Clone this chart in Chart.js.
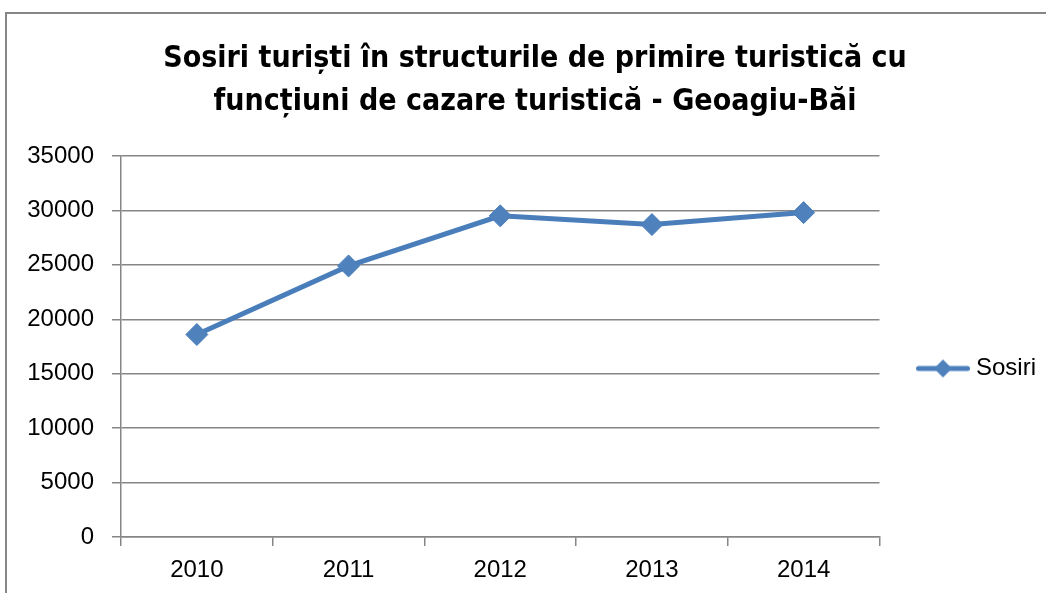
<!DOCTYPE html>
<html>
<head>
<meta charset="utf-8">
<script src="https://cdn.jsdelivr.net/npm/chart.js@4"></script>
<style>
  html, body { margin: 0; padding: 0; background: #fff; }
  #wrap { width: 1046px; height: 593px; }
</style>
</head>
<body>
<div id="wrap"><canvas id="chart"></canvas></div>
<script>
// Data
var years = ['2010', '2011', '2012', '2013', '2014'];
var sosiri = [18600, 24900, 29500, 28700, 29800];
var titleLines = ['Sosiri turiști în structurile de primire turistică cu', 'funcțiuni de cazare turistică - Geoagiu-Băi'];
var seriesName = 'Sosiri';

var lineColor = '#4a7ebb';
var gridColor = '#868686';
var tickFont = { family: '"Liberation Sans", Arial, sans-serif', size: 24 };

// Legend symbol: line with diamond in the middle (drawn a bit to the right of the image centre)
var legendIcon = document.createElement('canvas');
legendIcon.width = 70;
legendIcon.height = 22;
(function () {
    var c = legendIcon.getContext('2d');
    c.strokeStyle = lineColor;
    c.lineWidth = 5;
    c.lineCap = 'round';
    c.beginPath();
    c.moveTo(17.5, 11);
    c.lineTo(66.5, 11);
    c.stroke();
    c.fillStyle = '#4f81bd';
    c.beginPath();
    c.moveTo(42, 2);
    c.lineTo(51, 11);
    c.lineTo(42, 20);
    c.lineTo(33, 11);
    c.closePath();
    c.fill();
})();

// Outer frame of the chart object
var framePlugin = {
    id: 'frame',
    beforeDraw: function (chart) {
        var ctx = chart.ctx;
        ctx.save();
        ctx.fillStyle = '#fff';
        ctx.fillRect(0, 0, chart.width, chart.height);
        ctx.strokeStyle = gridColor;
        ctx.lineWidth = 2;
        ctx.strokeRect(6, 13, chart.width + 20, chart.height + 20);
        ctx.restore();
    }
};

// Excel puts the legend a bit below the middle
var legendShift = {
    id: 'legendShift',
    afterLayout: function (chart) {
        if (chart.legend) {
            chart.legend.top += 66;
            chart.legend.bottom += 66;
        }
    }
};

var ctx = document.getElementById('chart').getContext('2d');
var myChart = new Chart(ctx, {
    type: 'line',
    data: {
        labels: years,
        datasets: [{
            label: seriesName,
            data: sosiri,
            borderColor: lineColor,
            backgroundColor: '#4f81bd',
            borderWidth: 5,
            pointStyle: 'rectRot',
            pointRadius: 11,
            pointHoverRadius: 11,
            pointBorderWidth: 1,
            pointBorderColor: lineColor,
            pointBackgroundColor: '#4f81bd',
            tension: 0
        }]
    },
    options: {
        responsive: true,
        maintainAspectRatio: false,
        animation: false,
        layout: {
            padding: { left: 24, right: 0, top: 12, bottom: 0 }
        },
        plugins: {
            title: {
                display: true,
                text: titleLines,
                color: '#000',
                font: { family: '"DejaVu Sans Condensed", "Open Sans", sans-serif', size: 30, weight: 'bold', lineHeight: 1.45 },
                padding: { top: 25, bottom: 32 }
            },
            legend: {
                position: 'right',
                labels: {
                    usePointStyle: true,
                    pointStyleWidth: 56,
                    color: '#000',
                    font: tickFont,
                    padding: 28.5,
                    generateLabels: function (chart) {
                        return chart.data.datasets.map(function (ds, i) {
                            return {
                                text: ds.label,
                                pointStyle: legendIcon,
                                fillStyle: ds.borderColor,
                                strokeStyle: ds.borderColor,
                                lineWidth: 0,
                                datasetIndex: i,
                                fontColor: '#000'
                            };
                        });
                    }
                }
            },
            tooltip: { enabled: false }
        },
        scales: {
            x: {
                offset: true,
                afterFit: function (scale) { scale.height = 56; },
                grid: {
                    offset: true,
                    drawOnChartArea: false,
                    drawTicks: true,
                    tickLength: 9,
                    color: gridColor,
                    lineWidth: 1.5
                },
                border: { color: gridColor, width: 1.5 },
                ticks: {
                    color: '#000',
                    padding: 10,
                    font: tickFont
                }
            },
            y: {
                min: 0,
                max: 35000,
                afterFit: function (scale) { scale.width = 97; },
                grid: {
                    color: gridColor,
                    lineWidth: 1.5,
                    tickLength: 9
                },
                border: { color: gridColor, width: 1.5 },
                ticks: {
                    stepSize: 5000,
                    color: '#000',
                    padding: 18,
                    font: tickFont,
                    callback: function (value) { return String(value); }
                }
            }
        }
    },
    plugins: [framePlugin, legendShift]
});
</script>
</body>
</html>
